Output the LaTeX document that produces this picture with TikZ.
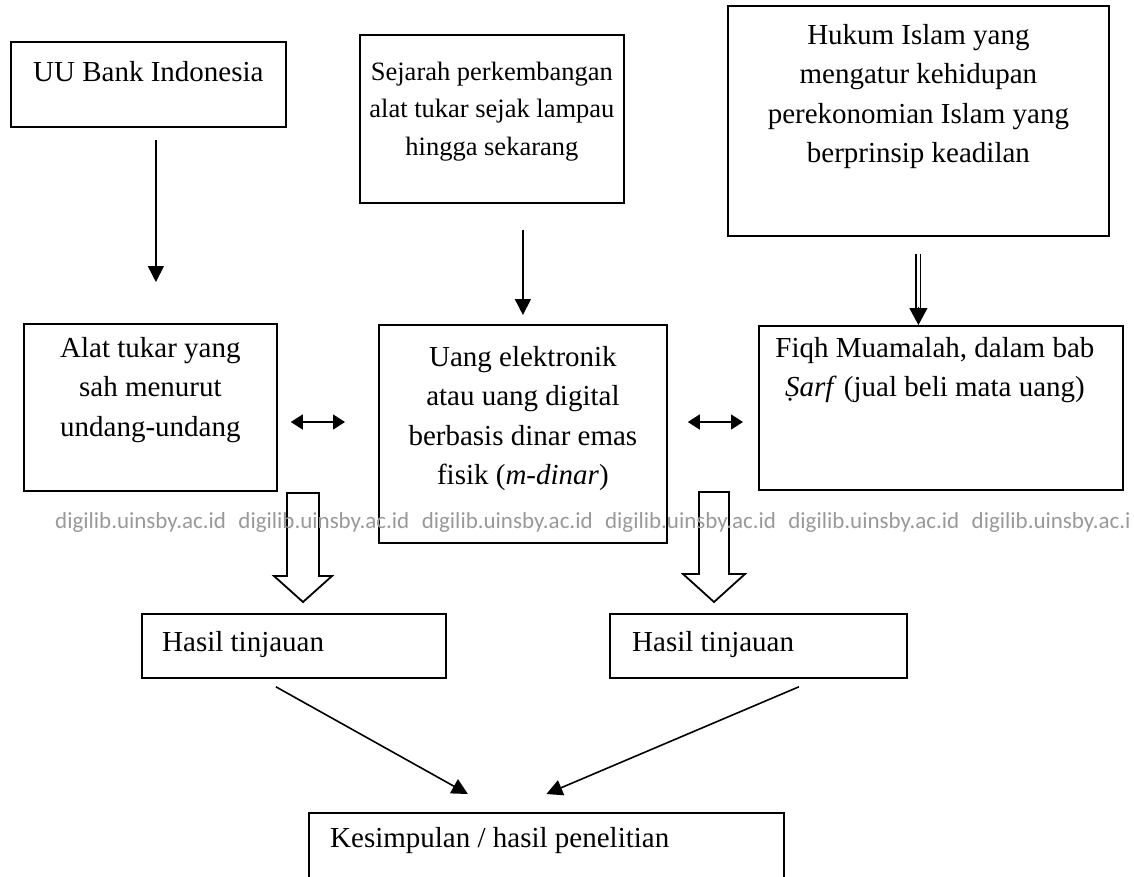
\documentclass[tikz,border=0pt]{standalone}
\usepackage{fontspec}
\setmainfont{Liberation Serif}
\newfontfamily\wmfont{Carlito}
\usetikzlibrary{arrows.meta,positioning}

\begin{document}
\begin{tikzpicture}[x=1pt,y=-1pt,
  %%Estilos
  kotak/.style = {draw, line width=1.8pt, anchor=north west, inner sep=0pt},
  isi/.style   = {align=center, inner sep=0pt, anchor=base,
    font=\fontsize{29}{39.5}\selectfont},
  isikecil/.style = {isi, font=\fontsize{26.5}{37.5}\selectfont},
  isikiri/.style = {isi, align=left, anchor=base west},
  panah/.style = {line width=1.6pt, -{Triangle[length=16pt,width=16pt]}},
  panahdua/.style = {line width=1.6pt,
    {Triangle[length=12pt,width=15pt]}-{Triangle[length=12pt,width=15pt]}},
  dobel/.style = {double, double distance=3.5pt, line width=1.2pt},
  hollow/.style = {draw, line width=1.8pt, line join=miter}]
  \useasboundingbox (0,0) rectangle (1134,876);

  %%Kotak
  \node[kotak, minimum width=275pt, minimum height=85pt]  (uu)      at (10,41)  {};
  \node[kotak, minimum width=264pt, minimum height=168pt] (sejarah) at (359,34)  {};
  \node[kotak, minimum width=381pt, minimum height=230pt] (hukum)   at (727,5)   {};
  \node[kotak, minimum width=253pt, minimum height=167pt] (alat)    at (23,323)  {};
  \node[kotak, minimum width=288pt, minimum height=218pt] (uang)    at (378,324) {};
  \node[kotak, minimum width=364pt, minimum height=164pt] (fiqh)    at (758,325) {};
  \node[kotak, minimum width=304pt, minimum height=64pt]  (hasilL)  at (141,613) {};
  \node[kotak, minimum width=297pt, minimum height=64pt]  (hasilR)  at (609,613) {};
  \node[kotak, minimum width=475pt, minimum height=90pt]  (simpul)  at (308,812) {};

  %%Teks (anchor base = baris terakhir)
  \node[isi, yshift=-40pt] (tuu) at (uu.north) {UU Bank Indonesia};
  \node[isikecil, yshift=-121pt] (tsejarah) at (sejarah.north)
    {Sejarah perkembangan\\alat tukar sejak lampau\\hingga sekarang};
  \node[isi, yshift=-157.5pt] (thukum) at (hukum.north)
    {Hukum Islam yang\\mengatur kehidupan\\perekonomian Islam yang\\berprinsip keadilan};
  \node[isi, yshift=-113pt] (talat) at (alat.north)
    {Alat tukar yang\\sah menurut\\undang-undang};
  \node[isi, yshift=-160.5pt] (tuang) at (uang.north)
    {Uang elektronik\\atau uang digital\\berbasis dinar emas\\fisik (\textit{m-dinar})};
  \node[isi, xshift=-6pt, yshift=-71.5pt] (tfiqh) at (fiqh.north)
    {Fiqh Muamalah, dalam bab\\\textit{Ṣarf} (jual beli mata uang)};
  \node[isikiri, xshift=21pt, yshift=-38pt] (thasilL) at (hasilL.north west) {Hasil tinjauan};
  \node[isikiri, xshift=23pt, yshift=-38pt] (thasilR) at (hasilR.north west) {Hasil tinjauan};
  \node[isikiri, xshift=22pt, yshift=-35pt] (tsimpul) at (simpul.north west)
    {Kesimpulan / hasil penelitian};

  %%Panah
  \coordinate (a1) at ([xshift=7.5pt]uu.south);
  \draw[panah, shorten <=12pt, shorten >=41pt] (a1) -- (a1 |- alat.north);
  \draw[panah, shorten <=26pt, shorten >=9pt] (uang.north |- sejarah.south) -- (uang.north);
  \coordinate (dtip) at (hukum.south |- fiqh.north);
  \draw[dobel, shorten <=17pt, shorten >=15pt] (hukum.south) -- (dtip);
  \draw[line width=1.2pt, -{Triangle[length=17pt,width=18pt]}] ([yshift=18pt]dtip) -- (dtip);

  \coordinate (baris) at (0,422);
  \draw[panahdua, shorten <=13pt, shorten >=33pt] (alat.east |- baris) -- (uang.west |- baris);
  \draw[panahdua, shorten <=20pt, shorten >=15pt] (uang.east |- baris) -- (fiqh.west |- baris);

  \draw[hollow] (287,493) -- (287,576) -- (274,576) -- (303,602) -- (332,576)
    -- (319,576) -- (319,493) -- cycle;
  \draw[hollow] (699,492) -- (699,574) -- (683,574) -- (714,602) -- (745,574)
    -- (729,574) -- (729,492) -- cycle;

  \coordinate (tipL) at ([xshift=-78.5pt,yshift=18pt]simpul.north);
  \coordinate (tipR) at ([yshift=18pt]simpul.north);
  \draw[panah] ([xshift=-18pt,yshift=-8pt]hasilL.south) -- (tipL);
  \draw[panah] ([xshift=40.5pt,yshift=-8pt]hasilR.south) -- (tipR);

  %%Marca de agua
  \node[anchor=base west, inner sep=0pt, text=black!40,
    font=\wmfont\fontsize{23}{23}\selectfont] (wm) at (55,528)
    {digilib.uinsby.ac.id\hspace{12.5pt}digilib.uinsby.ac.id\hspace{12.5pt}digilib.uinsby.ac.id\hspace{12.5pt}digilib.uinsby.ac.id\hspace{12.5pt}digilib.uinsby.ac.id\hspace{12.5pt}digilib.uinsby.ac.i};
\end{tikzpicture}
\end{document}
